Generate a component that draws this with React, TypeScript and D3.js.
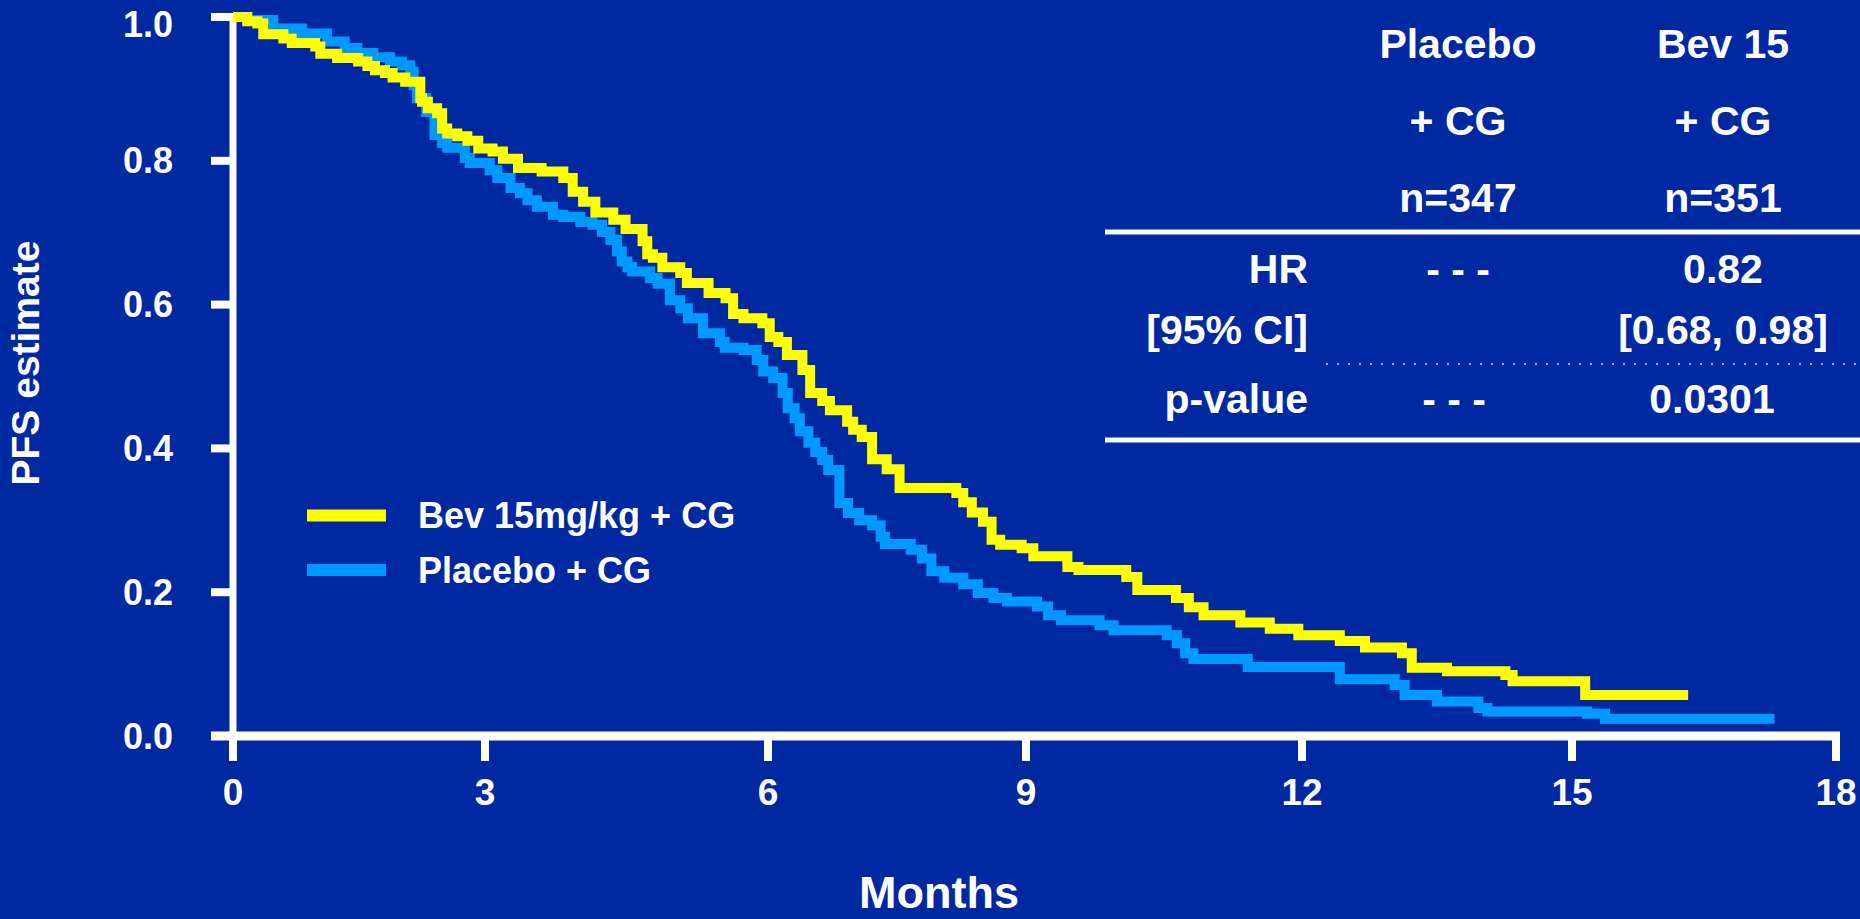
import React from "react";
import * as d3 from "d3";

// ---- Data ----
const xTicks = [0, 3, 6, 9, 12, 15, 18];
const yTicks = [0.0, 0.2, 0.4, 0.6, 0.8, 1.0];

// Bev 15mg/kg + CG : drop times (months) and survival after each drop
const bevTimes = [0, 0.17, 0.29, 0.36, 0.6, 0.7, 0.98, 1.04, 1.24, 1.49, 1.6, 1.69, 1.81, 1.9, 2.05, 2.23, 2.25, 2.32, 2.43, 2.49, 2.55, 2.67, 2.79, 2.92, 3.08, 3.19, 3.35, 3.6, 3.83, 3.93, 4.04, 4.17, 4.36, 4.49, 4.67, 4.72, 4.78, 4.88, 5.07, 5.14, 5.37, 5.55, 5.63, 5.74, 5.94, 6.02, 6.12, 6.22, 6.4, 6.49, 6.63, 6.72, 6.92, 6.99, 7.09, 7.21, 7.38, 7.53, 8.19, 8.27, 8.37, 8.5, 8.6, 8.7, 8.95, 9.08, 9.45, 9.57, 10.09, 10.21, 10.63, 10.77, 10.93, 11.33, 11.65, 11.96, 12.42, 12.7, 13.11, 13.22, 13.61, 14.26, 14.34, 15.15];
const bevSurv = [1.0, 0.994, 0.991, 0.976, 0.97, 0.964, 0.959, 0.949, 0.943, 0.938, 0.932, 0.926, 0.922, 0.916, 0.91, 0.887, 0.882, 0.873, 0.866, 0.845, 0.838, 0.834, 0.828, 0.817, 0.813, 0.803, 0.79, 0.785, 0.776, 0.757, 0.743, 0.728, 0.718, 0.705, 0.688, 0.67, 0.665, 0.652, 0.644, 0.63, 0.616, 0.609, 0.587, 0.581, 0.574, 0.555, 0.548, 0.53, 0.509, 0.477, 0.466, 0.453, 0.437, 0.426, 0.416, 0.385, 0.371, 0.345, 0.338, 0.325, 0.311, 0.298, 0.273, 0.266, 0.261, 0.25, 0.235, 0.231, 0.221, 0.203, 0.192, 0.179, 0.168, 0.158, 0.149, 0.14, 0.132, 0.123, 0.115, 0.095, 0.09, 0.085, 0.076, 0.057];
const bevEnd = 16.32;

// Placebo + CG
const plaTimes = [0, 0.17, 0.48, 0.82, 1.12, 1.33, 1.48, 1.67, 1.87, 2.01, 2.11, 2.15, 2.19, 2.3, 2.4, 2.49, 2.55, 2.76, 2.82, 3.05, 3.13, 3.27, 3.37, 3.45, 3.55, 3.72, 3.83, 4.01, 4.14, 4.24, 4.33, 4.4, 4.45, 4.51, 4.56, 4.75, 4.83, 4.96, 5.07, 5.15, 5.31, 5.49, 5.54, 5.74, 5.88, 5.95, 6.06, 6.17, 6.23, 6.31, 6.37, 6.47, 6.55, 6.63, 6.7, 6.83, 6.93, 7.06, 7.21, 7.31, 7.36, 7.66, 7.79, 7.9, 8.05, 8.27, 8.44, 8.62, 8.78, 9.12, 9.24, 9.38, 9.8, 9.95, 10.53, 10.64, 10.73, 10.82, 11.41, 12.42, 13.03, 13.14, 13.5, 13.96, 14.06, 15.17, 15.375];
const plaSurv = [1.0, 0.996, 0.984, 0.977, 0.966, 0.957, 0.95, 0.944, 0.938, 0.933, 0.924, 0.905, 0.887, 0.868, 0.836, 0.825, 0.818, 0.804, 0.797, 0.787, 0.776, 0.762, 0.755, 0.745, 0.736, 0.725, 0.722, 0.715, 0.711, 0.701, 0.69, 0.674, 0.66, 0.652, 0.646, 0.637, 0.629, 0.606, 0.595, 0.581, 0.56, 0.548, 0.54, 0.537, 0.523, 0.507, 0.498, 0.477, 0.456, 0.442, 0.424, 0.408, 0.395, 0.384, 0.37, 0.324, 0.31, 0.3, 0.293, 0.277, 0.267, 0.259, 0.247, 0.229, 0.22, 0.211, 0.199, 0.192, 0.187, 0.18, 0.168, 0.161, 0.154, 0.147, 0.14, 0.129, 0.115, 0.107, 0.096, 0.079, 0.071, 0.057, 0.048, 0.039, 0.034, 0.031, 0.024];
const plaEnd = 17.3;

const seriesNames = ["Bev 15mg/kg + CG", "Placebo + CG"];
const tableHeaders = [["Placebo", "+ CG", "n=347"], ["Bev 15", "+ CG", "n=351"]];
const rowLabels = ["HR", "[95% CI]", "p-value"];
const placeboCol = ["- - -", "", "- - -"];
const bevCol = ["0.82", "[0.68, 0.98]", "0.0301"];

const BG = "#0028A0";
const YELLOW = "#FFFF00";
const BLUE = "#0099FF";
const FONT = "'Liberation Sans', Arial, Helvetica, sans-serif";

export default function App() {
  const W = 1860, H = 919;
  const xScale = d3.scaleLinear().domain(xTicks).range([233, 485, 768, 1026, 1302, 1572, 1836]);
  const yScale = d3.scaleLinear().domain([0, 1]).range([736, 17]);

  const buildPts = (t: number[], s: number[], end: number) => {
    const pts: [number, number][] = t.map((v, i) => [v, s[i]]);
    pts.push([end, s[s.length - 1]]);
    return pts;
  };
  const line = d3
    .line<[number, number]>()
    .x((d) => xScale(d[0]))
    .y((d) => yScale(d[1]))
    .curve(d3.curveStepAfter);

  const bevPath = line(buildPts(bevTimes, bevSurv, bevEnd)) || "";
  const plaPath = line(buildPts(plaTimes, plaSurv, plaEnd)) || "";

  const col1 = 1458, col2 = 1723, labelRight = 1308;
  const headerY = [58, 135, 212];
  const rowY = [283, 344, 413];

  return (
    <div style={{ position: "fixed", left: 0, top: 0, width: W, height: H, background: BG }}>
      <svg width={W} height={H} style={{ display: "block" }} fontFamily={FONT}>
        <rect x={0} y={0} width={W} height={H} fill={BG} />

        {/* Axes */}
        <line x1={233} x2={233} y1={13} y2={761} stroke="#fff" strokeWidth={7} />
        <line x1={211} x2={1840} y1={yScale(0)} y2={yScale(0)} stroke="#fff" strokeWidth={9} />
        {yTicks.map((v) => (
          <g key={"y" + v}>
            <line x1={211} x2={233} y1={yScale(v)} y2={yScale(v)} stroke="#fff" strokeWidth={8} />
            <text
              x={173}
              y={Math.max(yScale(v), 24)}
              textAnchor="end"
              dominantBaseline="central"
              fill="#fff"
              fontSize={36}
              fontWeight="bold"
            >
              {v.toFixed(1)}
            </text>
          </g>
        ))}
        {xTicks.map((v) => (
          <g key={"x" + v}>
            <line x1={xScale(v)} x2={xScale(v)} y1={yScale(0)} y2={761} stroke="#fff" strokeWidth={8} />
            <text x={xScale(v)} y={805} textAnchor="middle" fill="#fff" fontSize={37} fontWeight="bold">
              {v}
            </text>
          </g>
        ))}
        <text x={939} y={908} textAnchor="middle" fill="#fff" fontSize={45} fontWeight="bold">
          Months
        </text>
        <text
          transform="translate(39,363) rotate(-90)"
          textAnchor="middle"
          fill="#fff"
          fontSize={39}
          fontWeight="bold"
        >
          PFS estimate
        </text>

        {/* Curves */}
        <path d={plaPath} fill="none" stroke={BLUE} strokeWidth={10} />
        <path d={bevPath} fill="none" stroke={YELLOW} strokeWidth={10} />

        {/* Legend */}
        <line x1={307} x2={386} y1={515.5} y2={515.5} stroke={YELLOW} strokeWidth={12} />
        <line x1={307} x2={386} y1={570} y2={570} stroke={BLUE} strokeWidth={12} />
        <text x={418} y={528} fill="#fff" fontSize={36} fontWeight="bold">
          {seriesNames[0]}
        </text>
        <text x={418} y={583} fill="#fff" fontSize={36} fontWeight="bold">
          {seriesNames[1]}
        </text>

        {/* Table */}
        {tableHeaders.map((col, ci) =>
          col.map((t, ri) => (
            <text
              key={"h" + ci + ri}
              x={ci === 0 ? col1 : col2}
              y={headerY[ri]}
              textAnchor="middle"
              fill="#fff"
              fontSize={41}
              fontWeight="bold"
            >
              {t}
            </text>
          ))
        )}
        <line x1={1105} x2={1860} y1={232} y2={232} stroke="#fff" strokeWidth={5} />
        {rowLabels.map((t, i) => (
          <g key={"r" + i}>
            <text x={labelRight} y={rowY[i]} textAnchor="end" fill="#fff" fontSize={41} fontWeight="bold">
              {t}
            </text>
            <text x={i === 2 ? col1 - 4 : col1} y={rowY[i]} textAnchor="middle" fill="#fff" fontSize={41} fontWeight="bold">
              {placeboCol[i]}
            </text>
            <text x={i === 2 ? col2 - 11 : col2} y={rowY[i]} textAnchor="middle" fill="#fff" fontSize={41} fontWeight="bold">
              {bevCol[i]}
            </text>
          </g>
        ))}
        <line x1={1326} x2={1860} y1={364} y2={364} stroke="#9aa6d6" strokeWidth={2} strokeDasharray="2 9" />
        <line x1={1105} x2={1860} y1={440} y2={440} stroke="#fff" strokeWidth={5} />
      </svg>
    </div>
  );
}
